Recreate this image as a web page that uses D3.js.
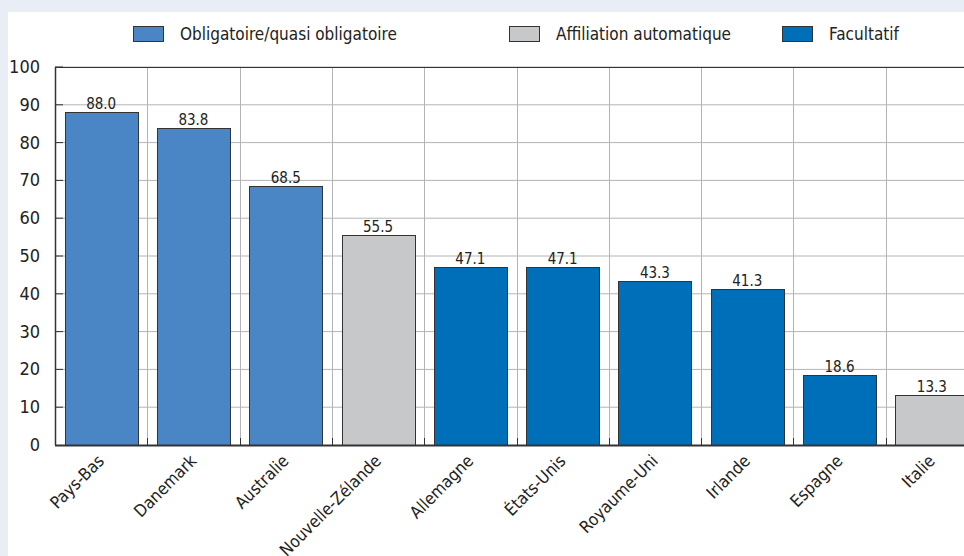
<!DOCTYPE html>
<html>
<head>
<meta charset="utf-8">
<script src="https://cdn.jsdelivr.net/npm/d3@7"></script>
<style>
  html, body { margin: 0; padding: 0; background: #e9edf5; }
  svg text { font-family: "Liberation Sans Narrow", "Arial Narrow", "DejaVu Sans Condensed", sans-serif; fill: #222; }
</style>
</head>
<body>
<div id="chart"></div>
<script>
const categories = ["Pays-Bas", "Danemark", "Australie", "Nouvelle-Zélande", "Allemagne", "États-Unis", "Royaume-Uni", "Irlande", "Espagne", "Italie"];
const values = [88.0, 83.8, 68.5, 55.5, 47.1, 47.1, 43.3, 41.3, 18.6, 13.3];
const types = ["oblig", "oblig", "oblig", "auto", "fac", "fac", "fac", "fac", "fac", "auto"];
const yTicks = [0, 10, 20, 30, 40, 50, 60, 70, 80, 90, 100];
const legendItems = [
  { key: "oblig", label: "Obligatoire/quasi obligatoire" },
  { key: "auto", label: "Affiliation automatique" },
  { key: "fac", label: "Facultatif" }
];

const W = 964, H = 556;
const colors = { oblig: "#4a86c6", auto: "#c7c8ca", fac: "#006fb9" };

const svg = d3.select("#chart").append("svg")
  .attr("width", W).attr("height", H);

// white panel
svg.append("rect").attr("x", 8).attr("y", 12).attr("width", W - 8).attr("height", H - 12).attr("fill", "#fff");

const mLeft = 55, mTop = 67, mBottom = 445;
const plotRight = mLeft + 923; // plot runs past the right edge

const x = d3.scaleBand().domain(categories).range([mLeft, plotRight])
  .paddingInner(0.21).paddingOuter(0.105);
const y = d3.scaleLinear().domain([0, 100]).range([mBottom, mTop]);
const step = x.step();

const g = svg.append("g");

// horizontal grid
g.selectAll(".hgrid").data(yTicks.slice(1)).join("line")
  .attr("x1", mLeft).attr("x2", plotRight)
  .attr("y1", d => y(d)).attr("y2", d => y(d))
  .attr("stroke", "#b4b4b4").attr("stroke-width", 1);

// vertical grid at band boundaries
const bounds = d3.range(1, categories.length + 1).map(i => mLeft + i * step);
g.selectAll(".vgrid").data(bounds).join("line")
  .attr("x1", d => Math.round(d) + 0.5).attr("x2", d => Math.round(d) + 0.5)
  .attr("y1", mTop).attr("y2", mBottom)
  .attr("stroke", "#b4b4b4").attr("stroke-width", 1);

// left ticks (inward)
g.selectAll(".ytick").data(yTicks.slice(1)).join("line")
  .attr("x1", mLeft).attr("x2", mLeft + 8)
  .attr("y1", d => y(d)).attr("y2", d => y(d))
  .attr("stroke", "#333").attr("stroke-width", 1);

// bottom ticks (inward)
g.selectAll(".xtick").data(bounds).join("line")
  .attr("x1", d => Math.round(d) + 0.5).attr("x2", d => Math.round(d) + 0.5)
  .attr("y1", mBottom - 7).attr("y2", mBottom)
  .attr("stroke", "#333").attr("stroke-width", 1);

// bars
const data = categories.map((c, i) => ({ c, v: values[i], t: types[i] }));
g.selectAll(".bar").data(data).join("rect")
  .attr("x", d => Math.round(x(d.c)) + 0.5)
  .attr("y", d => Math.round(y(d.v)) + 0.5)
  .attr("width", Math.round(x.bandwidth()))
  .attr("height", d => Math.round(mBottom - y(d.v)))
  .attr("fill", d => colors[d.t])
  .attr("stroke", "#333").attr("stroke-width", 1);

// value labels
g.selectAll(".val").data(data).join("text")
  .attr("x", d => x(d.c) + x.bandwidth() / 2)
  .attr("y", d => y(d.v) - 3)
  .attr("text-anchor", "middle")
  .style("font-size", "15px")
  .text(d => d.v.toFixed(1));

// frame: top and left, baseline
g.append("line").attr("x1", mLeft).attr("x2", plotRight).attr("y1", mTop + 0.5).attr("y2", mTop + 0.5)
  .attr("stroke", "#333").attr("stroke-width", 1.2);
g.append("line").attr("x1", mLeft + 0.5).attr("x2", mLeft + 0.5).attr("y1", mTop).attr("y2", mBottom)
  .attr("stroke", "#333").attr("stroke-width", 1.5);
g.append("line").attr("x1", mLeft).attr("x2", plotRight).attr("y1", mBottom + 0.5).attr("y2", mBottom + 0.5)
  .attr("stroke", "#333").attr("stroke-width", 2);

// y labels
g.selectAll(".ylab").data(yTicks).join("text")
  .attr("x", 40).attr("y", d => y(d) + 6)
  .attr("text-anchor", "end")
  .style("font-size", "18px")
  .text(d => d);

// x labels
g.selectAll(".xlab").data(categories).join("text")
  .attr("transform", d => `translate(${x(d) + x.bandwidth() / 2 + 4},${mBottom + 17}) rotate(-45)`)
  .attr("text-anchor", "end")
  .style("font-size", "17px")
  .text(d => d);

// legend
const legendX = [133, 509, 782];
const lg = svg.selectAll(".leg").data(legendItems).join("g")
  .attr("transform", (d, i) => `translate(${legendX[i]},26)`);
lg.append("rect").attr("x", 0.5).attr("y", 0.5).attr("width", 30).attr("height", 15)
  .attr("fill", d => colors[d.key]).attr("stroke", "#333").attr("stroke-width", 1);
lg.append("text").attr("x", 47).attr("y", 14)
  .style("font-size", "17px")
  .text(d => d.label);
</script>
</body>
</html>
